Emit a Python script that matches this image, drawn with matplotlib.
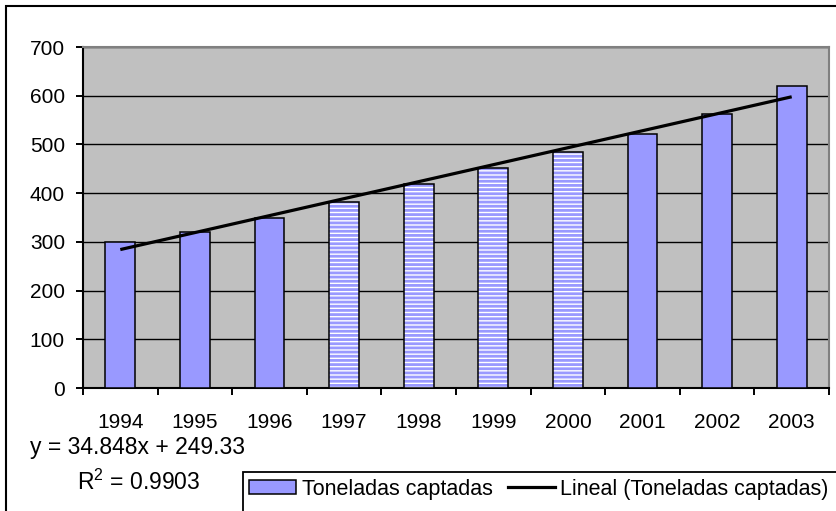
import matplotlib
matplotlib.use("Agg")
import matplotlib.pyplot as plt
from matplotlib.patches import Rectangle, Patch
from matplotlib.lines import Line2D
import numpy as np

plt.rcParams["font.family"] = ["Liberation Sans", "DejaVu Sans"]
plt.rcParams["mathtext.fontset"] = "custom"
plt.rcParams["mathtext.rm"] = "Liberation Sans"
plt.rcParams["mathtext.it"] = "Liberation Sans"
plt.rcParams["hatch.linewidth"] = 2.0

# Toneladas captadas por año
years = ["1994", "1995", "1996", "1997", "1998", "1999", "2000", "2001", "2002", "2003"]
tons = [300, 320, 350, 382, 418, 452, 485, 521, 562, 619]
estimated = [False, False, False, True, True, True, True, False, False, False]

# linear trend fitted over the category index (1..10)
slope = 34.848
intercept = 249.33
r2 = 0.9903

BAR = "#9999FF"
FS = 15
FS_EQ = 16.5

fig = plt.figure(figsize=(8.36, 5.11), dpi=100)
ax = fig.add_axes([83 / 836, 1 - 388 / 511, (829 - 83) / 836, (388 - 47) / 511])
ax.set_facecolor("#C0C0C0")

x = np.arange(len(years))
w = 0.4
solid = [i for i in x if not estimated[i]]
striped = [i for i in x if estimated[i]]

ax.bar([x[i] for i in solid], [tons[i] for i in solid], width=w,
       color=BAR, edgecolor="black", linewidth=1.1, zorder=3)
# striped bars: hatch first, then a plain black outline on top
ax.bar([x[i] for i in striped], [tons[i] for i in striped], width=w,
       color="white", edgecolor=BAR, hatch="----", linewidth=0, zorder=3)
ax.bar([x[i] for i in striped], [tons[i] for i in striped], width=w,
       fill=False, edgecolor="black", linewidth=1.1, zorder=4)

trend = slope * (x + 1) + intercept
ax.plot(x, trend, color="black", linewidth=2.3, zorder=5, solid_capstyle="butt")

ax.set_xlim(-0.5, len(years) - 0.5)
ax.set_ylim(0, 700)
ax.set_yticks(range(0, 701, 100))
ax.grid(axis="y", color="black", linewidth=1.0, zorder=1)
ax.set_axisbelow(True)

ax.set_xticks(np.arange(-0.5, len(years), 1.0))
ax.set_xticklabels([])
ax.set_xticks(x, minor=True)
ax.set_xticklabels(years, minor=True, fontsize=FS)
ax.tick_params(axis="x", which="major", direction="out", length=5, width=1.4)
ax.tick_params(axis="x", which="minor", length=0, pad=18)
ax.tick_params(axis="y", direction="out", length=5, width=1.4, pad=8, labelsize=FS)

for s in ("left", "bottom"):
    ax.spines[s].set_color("black")
    ax.spines[s].set_linewidth(1.5)
for s in ("top", "right"):
    ax.spines[s].set_color("#808080")
    ax.spines[s].set_linewidth(1.5)

# regression equation and fit
fig.text(138 / 836, 1 - 447 / 511, f"y = {slope}x + {intercept}",
         ha="center", va="center", fontsize=FS_EQ)
fig.text(139 / 836, 1 - 482 / 511, f"R$^2$ = {r2}",
         ha="center", va="center", fontsize=FS_EQ)

# outer chart border
fig.add_artist(Rectangle((6 / 836, -0.2), 1.5, 1.2 - 6 / 511, transform=fig.transFigure,
                         fill=False, edgecolor="black", linewidth=1.5))

# legend frame runs past the bottom and right edges
fig.add_artist(Rectangle((243 / 836, -0.2), 1.0, 0.2 + 1 - 472 / 511, transform=fig.transFigure,
                         fill=False, edgecolor="black", linewidth=1.3))
handles = [Patch(facecolor=BAR, edgecolor="black", linewidth=1.1),
           Line2D([0], [0], color="black", linewidth=2.3)]
fig.legend(handles, ["Toneladas captadas", "Lineal (Toneladas captadas)"],
           loc="center left", bbox_to_anchor=(249 / 836, 1 - 489 / 511), ncol=2,
           frameon=False, fontsize=15.5, handlelength=2.2, handleheight=0.6,
           handletextpad=0.25, columnspacing=0.7, borderpad=0, borderaxespad=0)

fig.savefig("out.png", dpi=100)
